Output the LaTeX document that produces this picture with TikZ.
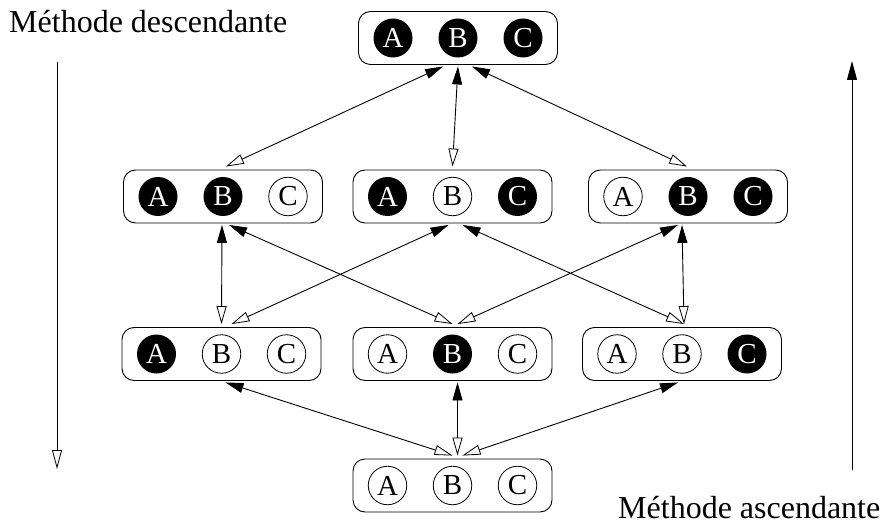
\documentclass[tikz,border=0pt]{standalone}
\usepackage{fontspec}
\setmainfont{Liberation Serif}
\usetikzlibrary{arrows.meta}
\tikzset{
  box/.style={draw, line width=0.9pt, rounded corners=12pt, minimum width=199pt, minimum height=53pt, inner sep=0pt},
  fullc/.style={circle, fill=black, text=white, minimum size=39pt, inner sep=0pt, font=\fontsize{29}{29}\selectfont},
  emptyc/.style={circle, draw, line width=0.8pt, fill=white, minimum size=38.5pt, inner sep=0pt, font=\fontsize{29}{29}\selectfont},
  link/.style={line width=0.9pt, {Triangle[open,length=18pt,width=10pt,line width=0.8pt]}-{Triangle[length=18pt,width=10pt]}},
  title/.style={font=\fontsize{32}{32}\selectfont, inner sep=0pt, anchor=base west}
}
\begin{document}
\begin{tikzpicture}[x=1pt,y=-1pt]
\useasboundingbox (0,0) rectangle (883,529);
% boxes
\node[box] (top) at (458,38) {};
\node[box] (r2l) at (223,196.5) {};
\node[box] (r2m) at (452.5,196.5) {};
\node[box] (r2r) at (688,196.5) {};
\node[box] (r3l) at (221.5,354) {};
\node[box] (r3m) at (452.5,354) {};
\node[box] (r3r) at (682,354) {};
\node[box] (bot) at (452.5,485.5) {};
% circles
\node[fullc]  (top-a) at ([xshift=-65pt]top.center) {A};
\node[fullc]  (top-b) at (top.center) {B};
\node[fullc]  (top-c) at ([xshift=65pt]top.center) {C};
\node[fullc]  (r2l-a) at ([xshift=-65pt]r2l.center) {A};
\node[fullc]  (r2l-b) at (r2l.center) {B};
\node[emptyc] (r2l-c) at ([xshift=65pt]r2l.center) {C};
\node[fullc]  (r2m-a) at ([xshift=-65pt]r2m.center) {A};
\node[emptyc] (r2m-b) at (r2m.center) {B};
\node[fullc]  (r2m-c) at ([xshift=65pt]r2m.center) {C};
\node[emptyc] (r2r-a) at ([xshift=-65pt]r2r.center) {A};
\node[fullc]  (r2r-b) at (r2r.center) {B};
\node[fullc]  (r2r-c) at ([xshift=65pt]r2r.center) {C};
\node[fullc]  (r3l-a) at ([xshift=-65pt]r3l.center) {A};
\node[emptyc] (r3l-b) at (r3l.center) {B};
\node[emptyc] (r3l-c) at ([xshift=65pt]r3l.center) {C};
\node[emptyc] (r3m-a) at ([xshift=-65pt]r3m.center) {A};
\node[fullc]  (r3m-b) at (r3m.center) {B};
\node[emptyc] (r3m-c) at ([xshift=65pt]r3m.center) {C};
\node[emptyc] (r3r-a) at ([xshift=-65pt]r3r.center) {A};
\node[emptyc] (r3r-b) at (r3r.center) {B};
\node[fullc]  (r3r-c) at ([xshift=65pt]r3r.center) {C};
\node[emptyc] (bot-a) at ([xshift=-65pt]bot.center) {A};
\node[emptyc] (bot-b) at (bot.center) {B};
\node[emptyc] (bot-c) at ([xshift=65pt]bot.center) {C};
% connectors row2 -> top
\draw[link] ([xshift=3pt,yshift=3pt]r2l.north) -- ([xshift=-15pt,yshift=-1.5pt]top.south);
\draw[link] ([xshift=0pt,yshift=3pt]r2m.north) -- ([xshift=0pt,yshift=-1.5pt]top.south);
\draw[link] ([xshift=-1pt,yshift=3pt]r2r.north) -- ([xshift=14pt,yshift=-1.5pt]top.south);
% row3 -> row2
\draw[link] ([xshift=0pt,yshift=3pt]r3l.north) -- ([xshift=-1pt,yshift=-1.5pt]r2l.south);
\draw[link] ([xshift=0pt,yshift=3pt]r3m.north) -- ([xshift=6pt,yshift=-1.5pt]r2l.south);
\draw[link] ([xshift=10pt,yshift=3pt]r3l.north) -- ([xshift=-4pt,yshift=-1.5pt]r2m.south);
\draw[link] ([xshift=2pt,yshift=3pt]r3r.north) -- ([xshift=10pt,yshift=-1.5pt]r2m.south);
\draw[link] ([xshift=5pt,yshift=3pt]r3m.north) -- ([xshift=-10pt,yshift=-1.5pt]r2r.south);
\draw[link] ([xshift=2pt,yshift=3pt]r3r.north) -- ([xshift=-6pt,yshift=-1.5pt]r2r.south);
% bottom -> row3
\draw[link] ([xshift=0pt,yshift=3pt]bot.north) -- ([xshift=4pt,yshift=-1.5pt]r3l.south);
\draw[link] ([xshift=5pt,yshift=3pt]bot.north) -- ([xshift=5pt,yshift=-1.5pt]r3m.south);
\draw[link] ([xshift=10pt,yshift=3pt]bot.north) -- ([xshift=-4pt,yshift=-1.5pt]r3r.south);
% side arrows
\coordinate (dtop) at (57,62);
\coordinate (dbot) at (57,469);
\coordinate (atop) at (852,61);
\coordinate (abot) at (852,470);
\draw[line width=0.9pt, -{Triangle[open,length=19pt,width=10pt,line width=0.8pt]}] (dtop) -- (dbot);
\draw[line width=0.9pt, -{Triangle[length=19pt,width=10pt]}] (abot) -- (atop);
% titles
\node[title] (desc) at (9,33) {Méthode descendante};
\node[title] (asc) at (618,518) {Méthode ascendante};
\end{tikzpicture}
\end{document}
